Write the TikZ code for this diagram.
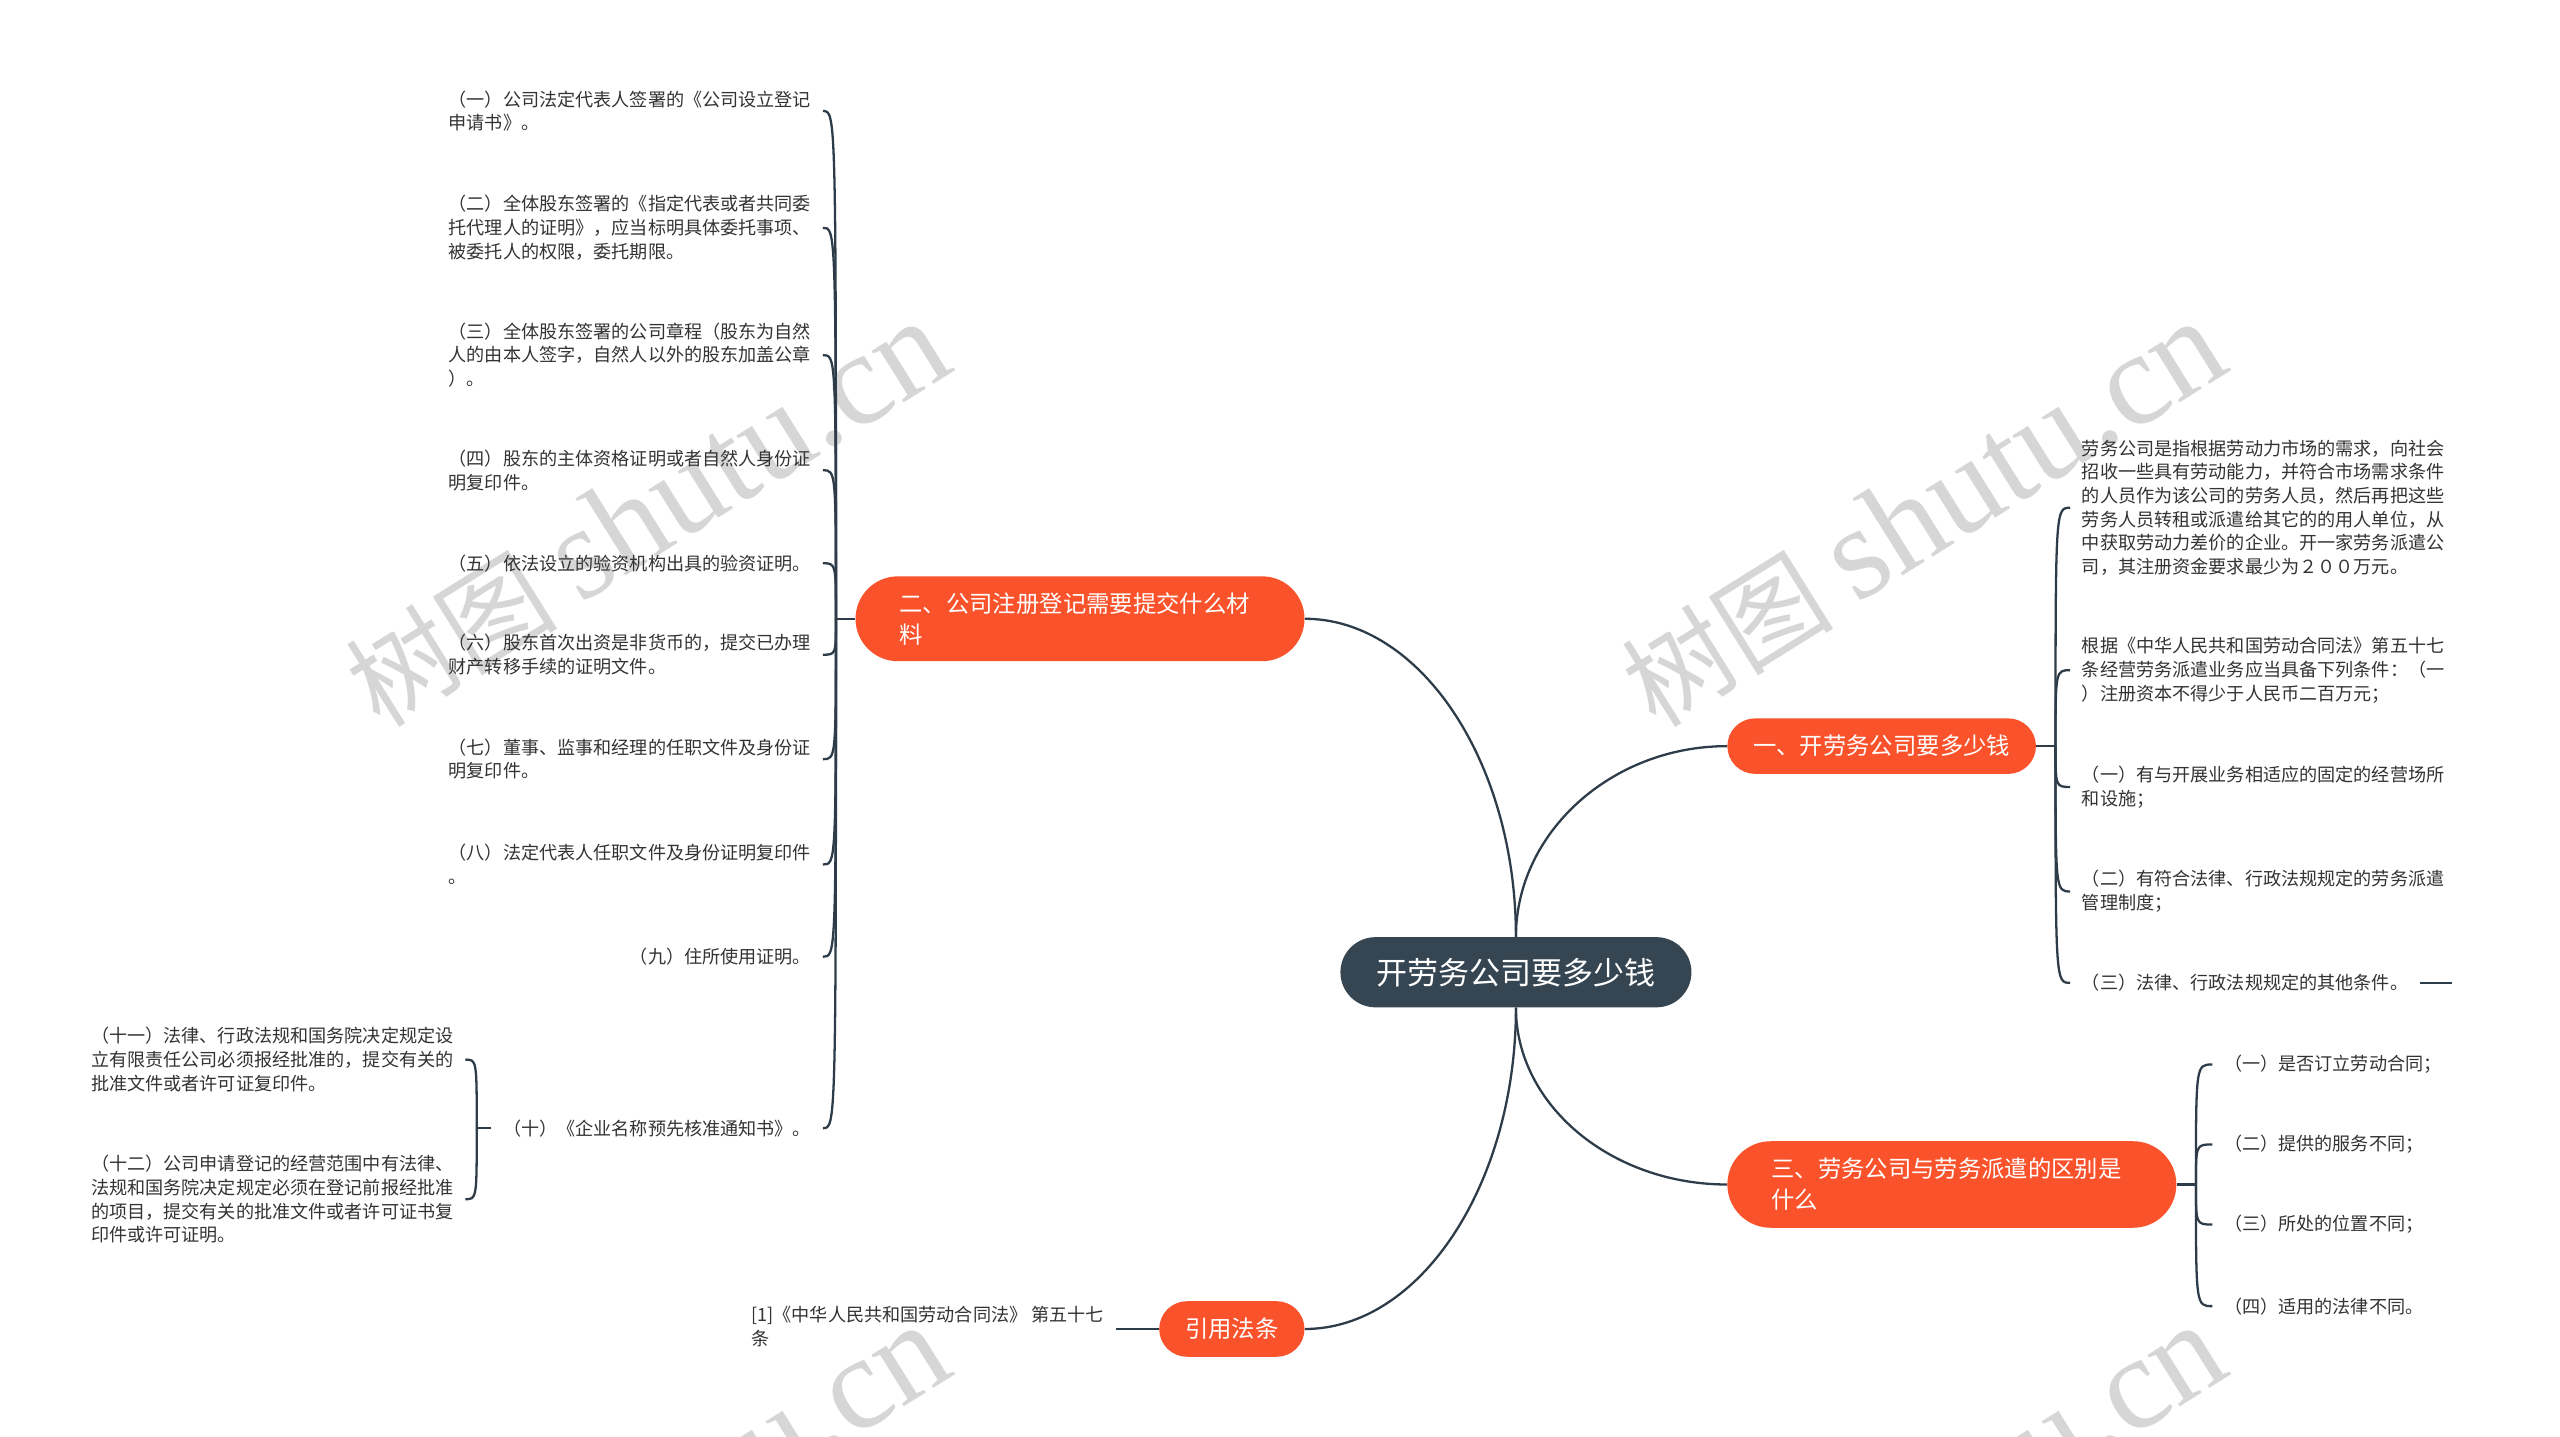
\documentclass[tikz,border=0pt]{standalone}
\usepackage{fontspec}
\setmainfont{Noto Sans CJK SC}
\newfontfamily\wmserif{Liberation Serif}
\newfontfamily\wmcjk{Noto Sans CJK SC}
\definecolor{rootc}{HTML}{354552}
\definecolor{brc}{HTML}{FA532C}
\definecolor{linec}{HTML}{2D3C48}
\definecolor{leaftxt}{HTML}{333333}
\definecolor{wmc}{HTML}{D6D6D6}
\begin{document}
\begin{tikzpicture}[x=1pt,y=-1pt,
 conn/.style={draw=linec, line width=1.4pt},
 rootbox/.style={fill=rootc, text=white, rounded corners=21.5pt, minimum width=215pt, minimum height=43pt, inner sep=0pt, font=\fontsize{19}{23}\selectfont},
 brbox/.style={fill=brc, text=white, rounded corners=17pt, minimum height=34pt, inner sep=0pt, font=\fontsize{14.3}{19}\selectfont},
 leaf/.style={text=leaftxt, inner xsep=7pt, inner ysep=0pt, align=left, font=\fontsize{11.1}{14.5}\selectfont},
 wm/.style={text=wmc, rotate=32, inner sep=0pt}
]
\path[use as bounding box] (0,0) rectangle (1568,880);
\clip (0,0) rectangle (1568,880);
\fill[white] (0,0) rectangle (1568,880);

% watermarks
\node[wm] at (396,315) {\wmcjk\fontsize{65}{67}\selectfont 树图 \wmserif\fontsize{81}{83}\selectfont shutu.cn};
\node[wm] at (1178,315) {\wmcjk\fontsize{65}{67}\selectfont 树图 \wmserif\fontsize{81}{83}\selectfont shutu.cn};
\node[wm] at (396,930) {\wmcjk\fontsize{65}{67}\selectfont 树图 \wmserif\fontsize{81}{83}\selectfont shutu.cn};
\node[wm] at (1178,930) {\wmcjk\fontsize{65}{67}\selectfont 树图 \wmserif\fontsize{81}{83}\selectfont shutu.cn};

% main nodes
\node[rootbox] (root) at (928.5,595.5) {开劳务公司要多少钱};
\node[brbox, minimum width=189pt] (b1) at (1152.5,457) {一、开劳务公司要多少钱};
\node[brbox, minimum width=275pt, minimum height=52pt, rounded corners=26pt, text width=221pt, align=left] (b2) at (661.5,379) {二、公司注册登记需要提交什么材\\料};
\node[brbox, minimum width=275pt, minimum height=53pt, rounded corners=26.5pt, text width=221pt, align=left] (b3) at (1195.5,725.5) {三、劳务公司与劳务派遣的区别是\\什么};
\node[brbox, minimum width=89pt] (cite) at (754.5,814) {引用法条};

\draw[conn] (root.north) .. controls (928.5,467) and (870,379) .. (b2.east);
\draw[conn] (root.north) .. controls (928.5,510) and (987,457) .. (b1.west);
\draw[conn] (root.south) .. controls (928.5,677) and (987,725.5) .. (b3.west);
\draw[conn] (root.south) .. controls (928.5,725) and (870,814) .. (cite.east);

% branch 1 leaves
\node[leaf, anchor=west] (r1) at (1268,311) {劳务公司是指根据劳动力市场的需求，向社会\\招收一些具有劳动能力，并符合市场需求条件\\的人员作为该公司的劳务人员，然后再把这些\\劳务人员转租或派遣给其它的的用人单位，从\\中获取劳动力差价的企业。开一家劳务派遣公\\司，其注册资金要求最少为２００万元。};
\node[leaf, anchor=west] (r2) at (1268,410.5) {根据《中华人民共和国劳动合同法》第五十七\\条经营劳务派遣业务应当具备下列条件：（一\\）注册资本不得少于人民币二百万元；};
\node[leaf, anchor=west] (r3) at (1268,482) {（一）有与开展业务相适应的固定的经营场所\\和设施；};
\node[leaf, anchor=west] (r4) at (1268,546) {（二）有符合法律、行政法规规定的劳务派遣\\管理制度；};
\node[leaf, anchor=west] (r5) at (1268,602) {（三）法律、行政法规规定的其他条件。};
\coordinate (j1) at (1259,457);
\coordinate (r5end) at (1502,602);
\draw[conn] (b1.east) -- (j1);
\foreach \n in {r1,r2,r3,r4,r5}
  \draw[conn] (j1) .. controls (j1 |- \n.west) .. (\n.west);
\draw[conn] (r5.east) -- (r5end);

% branch 2 leaves
\node[leaf, anchor=east] (l1) at (504,68) {（一）公司法定代表人签署的《公司设立登记\\申请书》。};
\node[leaf, anchor=east] (l2) at (504,139.5) {（二）全体股东签署的《指定代表或者共同委\\托代理人的证明》，应当标明具体委托事项、\\被委托人的权限，委托期限。};
\node[leaf, anchor=east] (l3) at (504,217.5) {（三）全体股东签署的公司章程（股东为自然\\人的由本人签字，自然人以外的股东加盖公章\\）。};
\node[leaf, anchor=east] (l4) at (504,288) {（四）股东的主体资格证明或者自然人身份证\\明复印件。};
\node[leaf, anchor=east] (l5) at (504,345) {（五）依法设立的验资机构出具的验资证明。};
\node[leaf, anchor=east] (l6) at (504,401) {（六）股东首次出资是非货币的，提交已办理\\财产转移手续的证明文件。};
\node[leaf, anchor=east] (l7) at (504,465) {（七）董事、监事和经理的任职文件及身份证\\明复印件。};
\node[leaf, anchor=east] (l8) at (504,529.5) {（八）法定代表人任职文件及身份证明复印件\\。};
\node[leaf, anchor=east] (l9) at (504,586) {（九）住所使用证明。};
\node[leaf, anchor=east] (l10) at (504,691) {（十）《企业名称预先核准通知书》。};
\coordinate (j2) at (512,379);
\draw[conn] (b2.west) -- (j2);
\foreach \n in {l1,l2,l3,l4,l5,l6,l7,l8,l9,l10}
  \draw[conn] (j2) .. controls (j2 |- \n.east) .. (\n.east);

% sub-leaves of (十)
\node[leaf, anchor=east] (l11) at (285,649) {（十一）法律、行政法规和国务院决定规定设\\立有限责任公司必须报经批准的，提交有关的\\批准文件或者许可证复印件。};
\node[leaf, anchor=east] (l12) at (285,734.5) {（十二）公司申请登记的经营范围中有法律、\\法规和国务院决定规定必须在登记前报经批准\\的项目，提交有关的批准文件或者许可证书复\\印件或许可证明。};
\coordinate (j3) at (292,691);
\draw[conn] (l10.west) -- (j3);
\foreach \n in {l11,l12}
  \draw[conn] (j3) .. controls (j3 |- \n.east) .. (\n.east);

% branch 3 leaves
\node[leaf, anchor=west] (t1) at (1355,652) {（一）是否订立劳动合同；};
\node[leaf, anchor=west] (t2) at (1355,701) {（二）提供的服务不同；};
\node[leaf, anchor=west] (t3) at (1355,750) {（三）所处的位置不同；};
\node[leaf, anchor=west] (t4) at (1355,800) {（四）适用的法律不同。};
\coordinate (j4) at (1345,725.5);
\draw[conn] (b3.east) -- (j4);
\foreach \n in {t1,t2,t3,t4}
  \draw[conn] (j4) .. controls (j4 |- \n.west) .. (\n.west);

% citation leaf
\node[leaf, anchor=west] (cl) at (453,812.5) {[1]《中华人民共和国劳动合同法》 第五十七\\条};
\draw[conn] (cite.west) -- (cl.east |- cite.west);
\end{tikzpicture}
\end{document}
